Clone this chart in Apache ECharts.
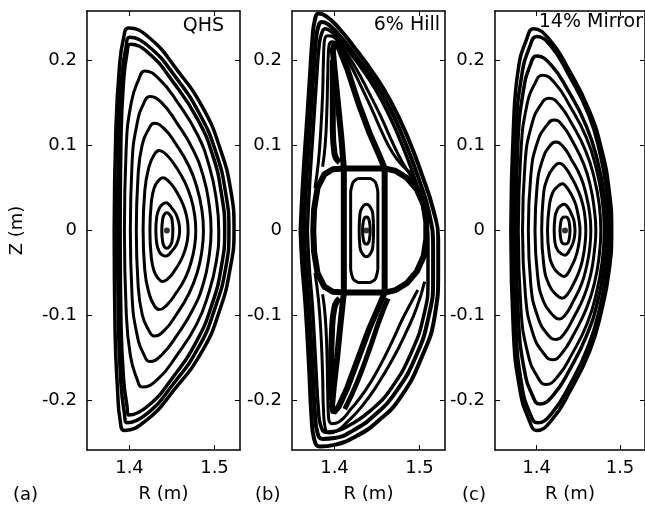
<!DOCTYPE html>
<html>
<head>
<meta charset="utf-8">
<title>QHS / Hill / Mirror flux surfaces</title>
<script src="https://cdn.jsdelivr.net/npm/echarts@6/dist/echarts.min.js"></script>
<style>
  html, body { margin: 0; padding: 0; background: #fff; }
  #chart { width: 645px; height: 508px; }
</style>
</head>
<body>
<div id="chart"></div>
<script>
// tick labels
var rTicks = [1.4, 1.5];
var zTicks = [-0.2, -0.1, 0, 0.1, 0.2];
var panelTitles = ['QHS', '6% Hill', '14% Mirror'];
var panelTags = ['(a)', '(b)', '(c)'];

// ---- (a) QHS : [R, Z] points ----
var qhsO1 = [[1.382,0],[1.384,0.119],[1.388,0.19],[1.393,0.226],[1.399,0.238],[1.424,0.226],[1.455,0.19],[1.487,0.143],[1.507,0.095],[1.519,0.048],[1.523,0],
  [1.518,-0.047],[1.506,-0.094],[1.486,-0.141],[1.452,-0.188],[1.420,-0.223],[1.394,-0.235],[1.389,-0.223],[1.386,-0.188],[1.383,-0.118],[1.382,0]];
var qhsO2 = [[1.386,0],[1.387,0.114],[1.391,0.182],[1.396,0.216],[1.400,0.227],[1.423,0.216],[1.453,0.182],[1.483,0.136],[1.502,0.091],[1.513,0.045],[1.517,0],
  [1.513,-0.045],[1.501,-0.090],[1.482,-0.136],[1.451,-0.181],[1.421,-0.215],[1.397,-0.226],[1.394,-0.215],[1.390,-0.181],[1.387,-0.113],[1.386,0]];
var qhsO3 = [[1.389,0],[1.390,0.11],[1.393,0.175],[1.397,0.208],[1.401,0.219],[1.423,0.208],[1.451,0.175],[1.480,0.131],[1.498,0.088],[1.508,0.044],[1.512,0],
  [1.508,-0.043],[1.497,-0.087],[1.479,-0.130],[1.450,-0.174],[1.422,-0.206],[1.399,-0.217],[1.397,-0.206],[1.393,-0.174],[1.390,-0.109],[1.389,0]];
var qhsC1 = [[1.394,0],[1.396,0.094],[1.402,0.15],[1.411,0.178],[1.418,0.1875],[1.435,0.178],[1.457,0.15],[1.480,0.1125],[1.494,0.075],[1.502,0.0375],[1.505,0],
  [1.502,-0.037],[1.493,-0.074],[1.479,-0.110],[1.4555,-0.147],[1.433,-0.175],[1.415,-0.184],[1.409,-0.175],[1.401,-0.147],[1.396,-0.092],[1.394,0]];
var qhsC2 = [[1.401,0],[1.403,0.079],[1.409,0.126],[1.417,0.15],[1.424,0.1575],[1.438,0.15],[1.456,0.126],[1.475,0.0945],[1.487,0.063],[1.4935,0.0315],[1.496,0],
  [1.4935,-0.031],[1.487,-0.062],[1.475,-0.092],[1.456,-0.123],[1.438,-0.146],[1.424,-0.154],[1.417,-0.146],[1.409,-0.123],[1.403,-0.077],[1.401,0]];
var qhsC3 = [[1.408,0],[1.410,0.063],[1.415,0.101],[1.423,0.12],[1.429,0.126],[1.4405,0.12],[1.455,0.101],[1.470,0.0755],[1.4795,0.050],[1.485,0.025],[1.487,0],
  [1.485,-0.025],[1.4795,-0.050],[1.470,-0.074],[1.455,-0.099],[1.4405,-0.118],[1.429,-0.124],[1.423,-0.118],[1.415,-0.099],[1.410,-0.062],[1.408,0]];
var qhsC4 = [[1.416,0],[1.418,0.047],[1.423,0.075],[1.429,0.089],[1.435,0.094],[1.4435,0.089],[1.4545,0.075],[1.4655,0.056],[1.4725,0.0375],[1.4765,0.019],[1.478,0],
  [1.4765,-0.019],[1.4725,-0.037],[1.4655,-0.056],[1.4545,-0.074],[1.4435,-0.088],[1.435,-0.093],[1.429,-0.088],[1.423,-0.074],[1.418,-0.047],[1.416,0]];
var qhsC5 = [[1.424,0],[1.4255,0.031],[1.429,0.05],[1.4345,0.059],[1.439,0.062],[1.445,0.059],[1.4525,0.050],[1.460,0.037],[1.465,0.025],[1.468,0.0125],[1.469,0],
  [1.468,-0.012],[1.465,-0.024],[1.460,-0.036],[1.4525,-0.048],[1.445,-0.057],[1.439,-0.060],[1.4345,-0.057],[1.429,-0.048],[1.4255,-0.03],[1.424,0]];
var qhsC6 = [[1.431,0],[1.432,0.016],[1.435,0.026],[1.439,0.031],[1.443,0.0325],[1.446,0.031],[1.450,0.026],[1.4545,0.0195],[1.457,0.013],[1.4585,0.0065],[1.459,0],
  [1.4585,-0.006],[1.457,-0.012],[1.4545,-0.018],[1.450,-0.024],[1.446,-0.0285],[1.443,-0.03],[1.439,-0.029],[1.435,-0.025],[1.432,-0.015],[1.431,0]];
var qhsC7 = [[1.438,0],[1.439,0.013],[1.441,0.019],[1.444,0.021],[1.447,0.019],[1.450,0.013],[1.451,0],
  [1.450,-0.013],[1.447,-0.019],[1.444,-0.021],[1.441,-0.019],[1.439,-0.013],[1.438,0]];
var qhsAxis = [[1.444, 0]];

// ---- (b) 6% Hill ----
var hillO1 = [[1.360,0],[1.363,0.06],[1.367,0.12],[1.371,0.18],[1.374,0.225],[1.377,0.248],[1.381,0.255],[1.390,0.252],[1.405,0.238],[1.425,0.213],
  [1.445,0.186],[1.466,0.152],[1.486,0.11],[1.503,0.065],[1.516,0.025],[1.522,-0.01],[1.522,-0.05],[1.518,-0.1],[1.503,-0.148],[1.477,-0.197],
  [1.45,-0.225],[1.425,-0.242],[1.400,-0.252],[1.383,-0.254],[1.376,-0.245],[1.373,-0.22],[1.370,-0.16],[1.366,-0.09],[1.362,-0.04],[1.360,0]];
var hillO2 = [[1.364,0],[1.367,0.06],[1.371,0.12],[1.375,0.18],[1.378,0.222],[1.381,0.240],[1.385,0.245],[1.393,0.242],[1.407,0.228],[1.426,0.204],
  [1.446,0.177],[1.465,0.144],[1.483,0.104],[1.499,0.061],[1.511,0.022],[1.516,-0.02],[1.516,-0.06],[1.511,-0.1],[1.497,-0.145],[1.472,-0.19],
  [1.446,-0.218],[1.422,-0.235],[1.400,-0.244],[1.386,-0.245],[1.380,-0.238],[1.377,-0.215],[1.374,-0.16],[1.370,-0.09],[1.366,-0.04],[1.364,0]];
var hillO3 = [[1.368,0],[1.371,0.06],[1.375,0.12],[1.379,0.18],[1.382,0.218],[1.385,0.232],[1.389,0.237],[1.397,0.233],[1.410,0.219],[1.428,0.196],
  [1.447,0.168],[1.465,0.134],[1.481,0.097],[1.496,0.056],[1.506,0.018],[1.510,-0.02],[1.510,-0.06],[1.505,-0.1],[1.491,-0.142],[1.467,-0.185],
  [1.442,-0.212],[1.419,-0.228],[1.401,-0.236],[1.390,-0.237],[1.384,-0.23],[1.381,-0.21],[1.378,-0.16],[1.374,-0.09],[1.370,-0.04],[1.368,0]];
var hillI1Up = [[1.377,0.05],[1.381,0.08],[1.384,0.12],[1.386,0.16],[1.387,0.2],[1.388,0.222],[1.392,0.229],[1.398,0.228],[1.410,0.214],[1.425,0.191],
  [1.440,0.163],[1.455,0.133],[1.468,0.104],[1.480,0.08],[1.492,0.061],[1.503,0.042]];
var hillI2Up = [[1.386,0.075],[1.389,0.1],[1.391,0.14],[1.392,0.18],[1.393,0.212],[1.397,0.222],[1.404,0.22],[1.418,0.196],[1.432,0.168],[1.445,0.14],
  [1.457,0.113],[1.468,0.092],[1.480,0.076],[1.492,0.066]];
var hillI1Dn = [[1.377,-0.05],[1.381,-0.08],[1.384,-0.12],[1.386,-0.17],[1.387,-0.21],[1.389,-0.232],[1.394,-0.238],[1.402,-0.236],[1.415,-0.225],[1.432,-0.207],
  [1.450,-0.182],[1.468,-0.152],[1.485,-0.118],[1.497,-0.09],[1.506,-0.06]];
var hillI2Dn = [[1.386,-0.075],[1.389,-0.1],[1.391,-0.14],[1.392,-0.19],[1.393,-0.22],[1.397,-0.227],[1.405,-0.225],[1.420,-0.209],[1.437,-0.187],[1.453,-0.16],
  [1.468,-0.13],[1.480,-0.104],[1.490,-0.085],[1.498,-0.07]];
var hillSep = [[1.411,0.073],[1.408,0.11],[1.404,0.15],[1.400,0.19],[1.398,0.212],[1.400,0.219],[1.405,0.215],[1.415,0.19],[1.428,0.15],[1.441,0.115],[1.452,0.09],[1.459,0.073],
  [1.472,0.070],[1.485,0.062],[1.497,0.048],[1.505,0.03],[1.508,0.01],[1.508,-0.01],[1.505,-0.03],[1.497,-0.048],[1.485,-0.062],[1.472,-0.070],[1.459,-0.073],
  [1.452,-0.09],[1.441,-0.115],[1.428,-0.15],[1.415,-0.185],[1.405,-0.207],[1.399,-0.214],[1.397,-0.207],[1.399,-0.185],[1.403,-0.15],[1.407,-0.11],[1.411,-0.073],
  [1.398,-0.072],[1.388,-0.066],[1.380,-0.05],[1.376,-0.025],[1.375,0],[1.376,0.025],[1.380,0.05],[1.388,0.066],[1.398,0.072],[1.411,0.073]];
var hillLegUp = [[1.406,0.08],[1.400,0.09],[1.398,0.12],[1.398,0.16],[1.398,0.2]];
var hillLegDn = [[1.406,-0.08],[1.400,-0.09],[1.397,-0.12],[1.396,-0.16],[1.396,-0.2]];
var hillLegRDn = [[1.463,-0.08],[1.453,-0.105],[1.441,-0.14],[1.426,-0.18],[1.412,-0.21]];
var hillBox = [[1.411,0.073],[1.459,0.073],[1.459,-0.073],[1.411,-0.073],[1.411,0.073]];
var hillIn1 = [[1.419,0],[1.419,0.045],[1.422,0.057],[1.428,0.061],[1.442,0.061],[1.448,0.057],[1.451,0.045],[1.451,-0.045],
  [1.448,-0.057],[1.442,-0.061],[1.428,-0.061],[1.422,-0.057],[1.419,-0.045],[1.419,0]];
var hillIn2 = [[1.429,0],[1.430,0.02],[1.434,0.029],[1.4375,0.031],[1.441,0.029],[1.445,0.02],[1.446,0],
  [1.445,-0.02],[1.441,-0.029],[1.4375,-0.031],[1.434,-0.029],[1.430,-0.02],[1.429,0]];
var hillIn3 = [[1.433,0],[1.434,0.011],[1.4375,0.016],[1.441,0.011],[1.442,0],[1.441,-0.011],[1.4375,-0.016],[1.434,-0.011],[1.433,0]];
var hillAxis = [[1.4375, 0]];

// ---- (c) 14% Mirror ----
var mirO1 = [[1.369,0],[1.372,0.119],[1.378,0.19],[1.388,0.225],[1.396,0.237],[1.415,0.225],[1.438,0.19],[1.4627,0.142],[1.478,0.095],[1.487,0.047],[1.490,0],
  [1.487,-0.047],[1.478,-0.094],[1.464,-0.141],[1.4405,-0.188],[1.418,-0.223],[1.400,-0.235],[1.391,-0.223],[1.380,-0.188],[1.372,-0.118],[1.369,0]];
var mirO2 = [[1.372,0],[1.375,0.114],[1.382,0.182],[1.392,0.217],[1.400,0.228],[1.417,0.217],[1.439,0.182],[1.462,0.137],[1.476,0.091],[1.484,0.046],[1.487,0],
  [1.484,-0.045],[1.476,-0.090],[1.462,-0.136],[1.440,-0.181],[1.418,-0.215],[1.401,-0.226],[1.392,-0.215],[1.382,-0.181],[1.375,-0.113],[1.372,0]];
var mirO3 = [[1.375,0],[1.3775,0.103],[1.384,0.164],[1.3925,0.195],[1.400,0.205],[1.417,0.195],[1.438,0.164],[1.4595,0.123],[1.473,0.082],[1.481,0.041],[1.484,0],
  [1.481,-0.041],[1.4735,-0.082],[1.4605,-0.122],[1.440,-0.163],[1.4195,-0.194],[1.4035,-0.204],[1.395,-0.194],[1.385,-0.163],[1.378,-0.102],[1.375,0]];
var mirC1 = [[1.378,0],[1.381,0.091],[1.388,0.146],[1.398,0.173],[1.407,0.1825],[1.422,0.173],[1.440,0.146],[1.4595,0.1095],[1.4715,0.073],[1.4785,0.0365],[1.481,0],
  [1.4786,-0.036],[1.472,-0.072],[1.4607,-0.109],[1.4425,-0.145],[1.425,-0.172],[1.411,-0.181],[1.401,-0.172],[1.3895,-0.145],[1.381,-0.09],[1.378,0]];
var mirC2 = [[1.383,0],[1.386,0.078],[1.394,0.124],[1.405,0.148],[1.415,0.1555],[1.427,0.148],[1.443,0.124],[1.459,0.093],[1.469,0.062],[1.475,0.031],[1.477,0],
  [1.475,-0.030],[1.4695,-0.061],[1.460,-0.091],[1.445,-0.121],[1.4305,-0.144],[1.419,-0.152],[1.408,-0.144],[1.3955,-0.121],[1.3865,-0.076],[1.383,0]];
var mirC3 = [[1.390,0],[1.393,0.065],[1.401,0.104],[1.412,0.1235],[1.421,0.130],[1.431,0.1235],[1.4435,0.104],[1.4565,0.078],[1.4645,0.052],[1.469,0.026],[1.471,0],
  [1.469,-0.026],[1.465,-0.051],[1.457,-0.077],[1.4445,-0.102],[1.4325,-0.122],[1.423,-0.128],[1.413,-0.122],[1.4015,-0.102],[1.393,-0.064],[1.390,0]];
var mirC4 = [[1.398,0],[1.4005,0.052],[1.407,0.083],[1.4155,0.099],[1.423,0.104],[1.4315,0.099],[1.442,0.083],[1.453,0.0625],[1.4595,0.0415],[1.4635,0.021],[1.465,0],
  [1.4637,-0.021],[1.460,-0.0415],[1.454,-0.0625],[1.444,-0.083],[1.4345,-0.099],[1.427,-0.104],[1.418,-0.098],[1.408,-0.083],[1.401,-0.052],[1.398,0]];
var mirC5 = [[1.406,0],[1.408,0.040],[1.4135,0.063],[1.421,0.075],[1.427,0.079],[1.4335,0.075],[1.4415,0.063],[1.4497,0.047],[1.455,0.032],[1.458,0.016],[1.459,0],
  [1.458,-0.016],[1.4555,-0.032],[1.451,-0.048],[1.4435,-0.064],[1.4365,-0.0755],[1.431,-0.0795],[1.4235,-0.0755],[1.415,-0.064],[1.4085,-0.04],[1.406,0]];
var mirC6 = [[1.413,0],[1.415,0.0275],[1.419,0.044],[1.4255,0.052],[1.431,0.055],[1.435,0.052],[1.4405,0.044],[1.446,0.033],[1.449,0.022],[1.451,0.011],[1.452,0],
  [1.4513,-0.011],[1.4495,-0.0215],[1.4465,-0.032],[1.4415,-0.043],[1.437,-0.051],[1.433,-0.054],[1.427,-0.051],[1.420,-0.043],[1.415,-0.027],[1.413,0]];
var mirC7 = [[1.421,0],[1.422,0.0155],[1.425,0.025],[1.4295,0.0295],[1.433,0.031],[1.4355,0.0295],[1.439,0.025],[1.442,0.0185],[1.4445,0.0125],[1.4455,0.006],[1.446,0],
  [1.4456,-0.006],[1.4445,-0.0115],[1.4425,-0.0175],[1.4395,-0.023],[1.4365,-0.0275],[1.434,-0.029],[1.430,-0.0275],[1.425,-0.023],[1.422,-0.0145],[1.421,0]];
var mirC8 = [[1.428,0],[1.429,0.01],[1.431,0.015],[1.434,0.016],[1.437,0.015],[1.439,0.01],[1.440,0],
  [1.439,-0.01],[1.437,-0.015],[1.434,-0.016],[1.431,-0.015],[1.429,-0.01],[1.428,0]];
var mirAxis = [[1.434, 0]];

var gridLefts = [87, 292, 495];

function curve(panel, pts, width, smooth) {
  return {
    type: 'line', xAxisIndex: panel * 2, yAxisIndex: panel * 2,
    data: pts, showSymbol: false, silent: true,
    smooth: smooth === undefined ? 0.5 : smooth,
    lineStyle: { color: '#000', width: width || 3 }
  };
}
function dot(panel, pts) {
  return {
    type: 'scatter', xAxisIndex: panel * 2, yAxisIndex: panel * 2,
    data: pts, symbolSize: 6, silent: true, itemStyle: { color: '#000' }
  };
}

var font = 'DejaVu Sans';
var ink = '#000';
var grids = [], xAxes = [], yAxes = [], graphics = [];
gridLefts.forEach(function (left, i) {
  grids.push({ left: left, top: 11, width: 153, height: 441 });
  xAxes.push({
    type: 'value', gridIndex: i, position: 'bottom', min: 1.35, max: 1.53,
    name: 'R (m)', nameLocation: 'middle', nameGap: 35,
    nameTextStyle: { fontFamily: font, fontSize: 18, color: ink },
    axisLine: { onZero: false, lineStyle: { color: ink, width: 1.5 } },
    axisTick: { inside: true, length: 5, customValues: rTicks, lineStyle: { color: ink } },
    axisLabel: { customValues: rTicks, margin: 9, fontFamily: font, fontSize: 18, color: ink },
    splitLine: { show: false }
  });
  xAxes.push({
    type: 'value', gridIndex: i, position: 'top', min: 1.35, max: 1.53,
    axisLine: { onZero: false, lineStyle: { color: ink, width: 1.5 } },
    axisTick: { inside: true, length: 5, customValues: rTicks, lineStyle: { color: ink } },
    axisLabel: { show: false }, splitLine: { show: false }
  });
  yAxes.push({
    type: 'value', gridIndex: i, position: 'left', min: -0.258, max: 0.258,
    name: i === 0 ? 'Z (m)' : '', nameLocation: 'middle', nameGap: 61,
    nameTextStyle: { fontFamily: font, fontSize: 18, color: ink },
    axisLine: { onZero: false, lineStyle: { color: ink, width: 1.5 } },
    axisTick: { inside: true, length: 5, customValues: zTicks, lineStyle: { color: ink } },
    axisLabel: { customValues: zTicks, margin: 10, fontFamily: font, fontSize: 18, color: ink },
    splitLine: { show: false }
  });
  yAxes.push({
    type: 'value', gridIndex: i, position: 'right', min: -0.258, max: 0.258,
    axisLine: { onZero: false, lineStyle: { color: ink, width: 1.5 } },
    axisTick: { inside: true, length: 5, customValues: zTicks, lineStyle: { color: ink } },
    axisLabel: { show: false }, splitLine: { show: false }
  });
});

// panel titles and tags
var titleRight = [224, 440, 643];
var titleY = [26, 25, 22];
panelTitles.forEach(function (t, i) {
  graphics.push({
    type: 'text', x: titleRight[i], y: titleY[i], z: 10,
    style: { text: t, fontFamily: font, fontSize: 19, fill: ink, align: 'right', verticalAlign: 'middle' }
  });
});
var tagX = [13, 255, 462];
panelTags.forEach(function (t, i) {
  graphics.push({
    type: 'text', x: tagX[i], y: 495, z: 10,
    style: { text: t, fontFamily: font, fontSize: 18, fill: ink, align: 'left', verticalAlign: 'middle' }
  });
});

var series = [
  curve(0, qhsO1, 3.5), curve(0, qhsO2, 3.5), curve(0, qhsO3, 3.5),
  curve(0, qhsC1), curve(0, qhsC2), curve(0, qhsC3), curve(0, qhsC4),
  curve(0, qhsC5), curve(0, qhsC6), curve(0, qhsC7), dot(0, qhsAxis),

  curve(1, hillO1, 4), curve(1, hillO2, 4), curve(1, hillO3, 3.5),
  curve(1, hillI1Up, 3), curve(1, hillI2Up, 3), curve(1, hillI1Dn, 3), curve(1, hillI2Dn, 3),
  curve(1, hillSep, 6, false), curve(1, hillLegUp, 6), curve(1, hillLegDn, 6), curve(1, hillLegRDn, 5),
  curve(1, hillBox, 6, false), curve(1, hillIn1, 3, 0.2), curve(1, hillIn2, 3), curve(1, hillIn3, 3),
  dot(1, hillAxis),

  curve(2, mirO1, 3.5), curve(2, mirO2, 3.5), curve(2, mirO3, 3.5),
  curve(2, mirC1), curve(2, mirC2), curve(2, mirC3), curve(2, mirC4),
  curve(2, mirC5), curve(2, mirC6), curve(2, mirC7), curve(2, mirC8), dot(2, mirAxis)
];

var chart = echarts.init(document.getElementById('chart'), null, { renderer: 'canvas' });
chart.setOption({
  animation: false,
  backgroundColor: '#fff',
  grid: grids,
  xAxis: xAxes,
  yAxis: yAxes,
  graphic: graphics,
  series: series
});
</script>
</body>
</html>
